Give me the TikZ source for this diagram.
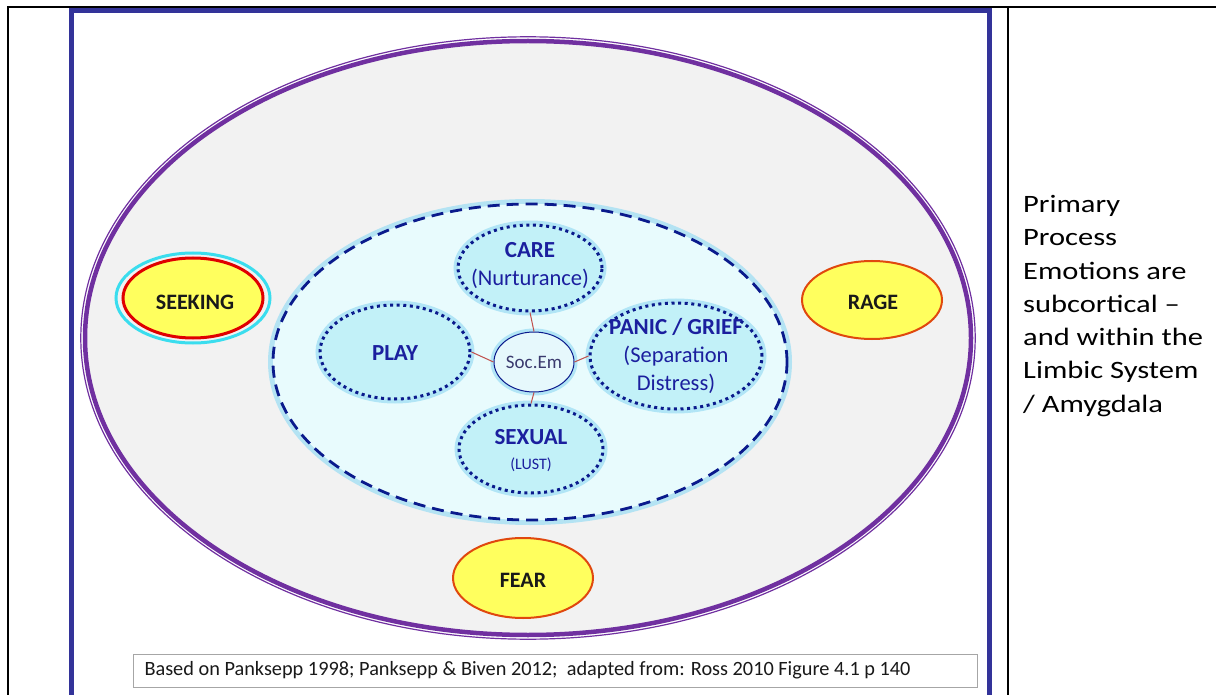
\documentclass[tikz,border=0pt]{standalone}
\usepackage{fontspec}
\setmainfont{Carlito}
\newfontfamily\sidefont[FakeStretch=1.22]{Carlito}
\usetikzlibrary{shapes.geometric}
\definecolor{framebl}{HTML}{333399}
\definecolor{purp}{HTML}{7030A0}
\definecolor{greyfill}{HTML}{F2F2F2}
\definecolor{innerfill}{HTML}{E8FBFD}
\definecolor{emofill}{HTML}{C2F1F8}
\definecolor{navy}{HTML}{0A1A8C}
\definecolor{lblue}{HTML}{1B1F9E}
\definecolor{glow}{HTML}{9ADDF4}
\definecolor{yel}{HTML}{FFFF5E}
\definecolor{orred}{HTML}{E0480E}
\definecolor{redd}{HTML}{E00000}
\definecolor{cyanring}{HTML}{3ADDEE}
\definecolor{socfill}{HTML}{E6F8FC}
\definecolor{soctext}{HTML}{3A3A6E}
\definecolor{linkred}{HTML}{C0504D}
\tikzset{
  emo/.style={ellipse, inner sep=0pt, fill=emofill, draw=navy, line width=3pt,
     dash pattern=on 3pt off 3.6pt,
     preaction={draw=glow, line width=9pt, solid, opacity=0.7}},
  basic/.style={ellipse, inner sep=0pt, fill=yel, draw=orred, line width=2pt},
  blbl/.style={font=\fontsize{23}{26}\selectfont\bfseries, text=lblue},
  sublbl/.style={font=\fontsize{22.5}{28}\selectfont, text=lblue},
  dlbl/.style={font=\fontsize{22}{24}\selectfont\bfseries, text=black!90},
  link/.style={draw=linkred, line width=1pt}
}
\begin{document}
\begin{tikzpicture}[x=1pt,y=-1pt]
\useasboundingbox (0,0) rectangle (1216,695);
% table lines
\draw[line width=2pt] (7.5,695) -- (7.5,7.5) -- (1216,7.5);
\draw[line width=2pt] (1007.5,7.5) -- (1007.5,695);
% blue frame
\draw[framebl, line width=5pt] (71.5,695) -- (71.5,10.5) -- (989.5,10.5) -- (989.5,695);
% big ellipse
\node[ellipse, minimum width=886pt, minimum height=594pt, inner sep=0pt, fill=greyfill, draw=purp, line width=4.5pt] (outer) at (528,338) {};
\draw[purp, line width=1.2pt] (outer.center) ellipse (447.2pt and 301.2pt);
% inner dashed ellipse
\node[ellipse, minimum width=514pt, minimum height=316pt, inner sep=0pt, fill=innerfill,
  draw=navy, line width=2.8pt, dash pattern=on 12pt off 7pt,
  preaction={draw=glow, line width=10pt, solid, opacity=0.7}] (inner) at (530,362) {};
% emotion ellipses
\node[emo, minimum width=144pt, minimum height=86pt] (care) at (530,268) {};
\node[emo, minimum width=150pt, minimum height=94pt] (play) at (395,352) {};
\node[emo, minimum width=172pt, minimum height=106pt] (panic) at (676,356) {};
\node[emo, minimum width=144pt, minimum height=88pt] (sexual) at (531,449) {};
\node[ellipse, inner sep=0pt, minimum width=80pt, minimum height=60pt, fill=socfill, draw=navy, line width=1pt,
  preaction={draw=glow, line width=7pt, opacity=0.7}] (socem) at (534,362) {};
% links
\draw[link] (socem.north) -- (care.south);
\draw[link] (socem.west) -- (play.east);
\draw[link] (socem.east) -- (panic.west);
\draw[link] (socem.south) -- (sexual.north);
% texts
\node[blbl] (caret) at (530,250) {CARE};
\node[sublbl] (nurt) at (530,279) {(Nurturance)};
\node[blbl] (playt) at (395,353) {PLAY};
\node[blbl] (panict) at (676,327) {PANIC / GRIEF};
\node[sublbl, align=center] (sept) at (676,370) {(Separation\\Distress)};
\node[blbl] (sexualt) at (531,437) {SEXUAL};
\node[font=\fontsize{16}{18}\selectfont, text=lblue] (lustt) at (531,465) {(LUST)};
\node[font=\fontsize{19}{22}\selectfont, text=soctext] (socemt) at (534,362) {Soc.Em};
% basic emotions
\node[ellipse, inner sep=0pt, minimum width=154pt, minimum height=90pt, draw=cyanring, line width=3pt] (seekring) at (193,298) {};
\node[basic, draw=redd, line width=3pt, minimum width=140pt, minimum height=80pt] (seeking) at (193,298) {};
\node[dlbl] (seekingt) at (195,302) {SEEKING};
\node[basic, minimum width=140pt, minimum height=78pt] (rage) at (872,300) {};
\node[dlbl] (raget) at (873,302) {RAGE};
\node[basic, minimum width=140pt, minimum height=80pt] (fear) at (523,578) {};
\node[dlbl] (feart) at (523,580) {FEAR};
% footer
\node[draw=black!35, line width=1pt, minimum width=844pt, minimum height=33pt, inner sep=0pt, fill=white] (foot) at (555,670.5) {};
\node[anchor=west, font=\fontsize{20.3}{22}\selectfont, text=black!90] (foott) at (141,670.5) {Based on Panksepp 1998; Panksepp \& Biven 2012; \ adapted from: Ross 2010 Figure 4.1 p 140};
% side text
\node[anchor=north west, align=left, inner sep=0pt, font=\sidefont\fontsize{25}{33.3}\selectfont] (side) at (1023,195) {Primary\\Process\\Emotions are\\subcortical –\\and within the\\Limbic System\\/ Amygdala};
\end{tikzpicture}
\end{document}
